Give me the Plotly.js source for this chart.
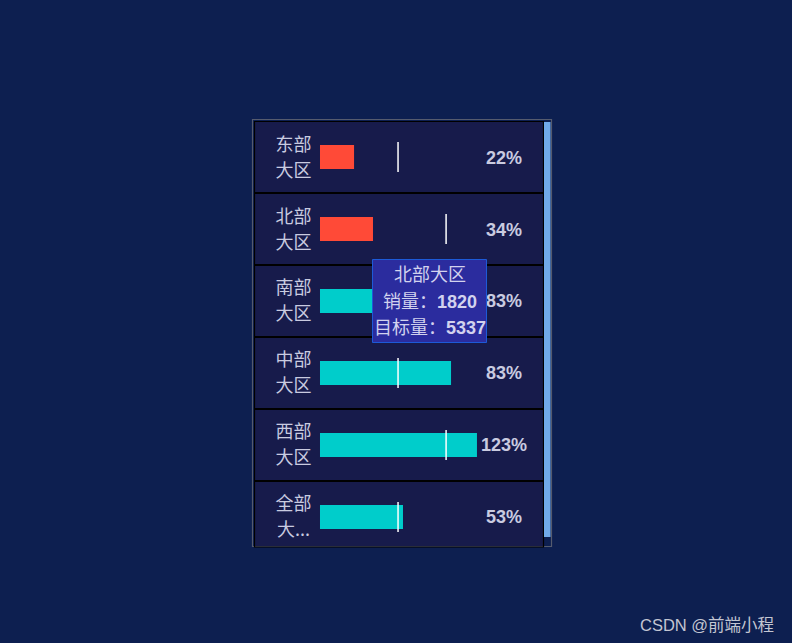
<!DOCTYPE html>
<html>
<head>
<meta charset="utf-8">
<script src="https://cdn.plot.ly/plotly-3.0.1.min.js"></script>
<style>
html,body{margin:0;padding:0;background:#0d1f50;}
#chart{width:792px;height:643px;}
</style>
</head>
<body>
<div id="chart"></div>
<script>
// ---- data ----
const categories = ['东部大区', '北部大区', '南部大区', '中部大区', '西部大区', '全部大区'];
const labelLine1 = ['东部', '北部', '南部', '中部', '西部', '全部'];
const labelLine2 = ['大区', '大区', '大区', '大区', '大区', '大...'];
const sales = [1170, 1820, 4500, 4500, 5390, 2850];
const targets = [5310, 5337, 5420, 5420, 4380, 5380];
const markerValues = [2680, 4330, 4330, 2680, 4330, 2680];
const percents = ['22%', '34%', '83%', '83%', '123%', '53%'];
const barColors = ['#ff4a37', '#ff4a37', '#00cdcb', '#00cdcb', '#00cdcb', '#00cdcb'];

// ---- layout geometry (pixels) ----
const W = 792, H = 643;
const PL = 254, PR = 544, PT = 121, PB = 546;
const xRange = [-2266, 7692];
const yRange = [5.403, -0.5];
const rowPx = (PB - PT) / (yRange[0] - yRange[1]);
const pxToX = p => xRange[0] + (p - PL) / (PR - PL) * (xRange[1] - xRange[0]);
const pxToPaperX = p => (p - PL) / (PR - PL);
const pxToPaperY = p => (PB - p) / (PB - PT);

const idx = categories.map((_, i) => i);
const labelX = idx.map(() => pxToX(293.5));
const pctX = idx.map(() => pxToX(504));
const textShift = 2 / rowPx;
const lineOff = 13 / rowPx;

const txtColor = '#c9cbe0';

const traces = [
  {
    type: 'bar', orientation: 'h',
    x: sales, y: idx, width: 24 / rowPx,
    marker: {color: barColors, line: {width: 0}},
    hoverinfo: 'skip'
  },
  {
    type: 'scatter', mode: 'markers',
    x: markerValues, y: idx,
    marker: {symbol: 'line-ns', size: 21.5, color: '#ffffff', line: {color: '#ffffff', width: 1.5}},
    hoverinfo: 'skip'
  },
  {
    type: 'scatter', mode: 'text',
    x: labelX, y: idx.map(i => i - lineOff + textShift), text: labelLine1,
    textposition: 'middle center',
    textfont: {family: 'Noto Sans CJK SC, sans-serif', size: 18, color: txtColor},
    hoverinfo: 'skip'
  },
  {
    type: 'scatter', mode: 'text',
    x: labelX, y: idx.map(i => i + lineOff + textShift), text: labelLine2,
    textposition: 'middle center',
    textfont: {family: 'Noto Sans CJK SC, sans-serif', size: 18, color: txtColor},
    hoverinfo: 'skip'
  },
  {
    type: 'scatter', mode: 'text',
    x: pctX, y: idx.map(i => i + textShift), text: percents,
    textposition: 'middle center',
    textfont: {family: 'Liberation Sans, Arial, sans-serif', size: 18, color: txtColor, weight: 'bold'},
    hoverinfo: 'skip'
  }
];

const shapes = [];
// panel outer border
shapes.push({type: 'rect', xref: 'paper', yref: 'paper', layer: 'below',
  x0: pxToPaperX(252.5), x1: pxToPaperX(551.5), y0: pxToPaperY(546.5), y1: pxToPaperY(119.5),
  line: {color: '#555b6e', width: 1.2}, fillcolor: 'rgba(0,0,0,0)'});
// row box border
shapes.push({type: 'rect', xref: 'paper', yref: 'paper', layer: 'above',
  x0: pxToPaperX(254.5), x1: pxToPaperX(543.5), y0: pxToPaperY(547), y1: pxToPaperY(121.5),
  line: {color: '#000000', width: 1.2}, fillcolor: 'rgba(0,0,0,0)'});
// row separators
for (let i = 0; i < categories.length - 1; i++) {
  shapes.push({type: 'line', xref: 'paper', yref: 'y', layer: 'above',
    x0: 0, x1: 1, y0: i + 0.5, y1: i + 0.5, line: {color: '#000000', width: 2.2}});
}
// scrollbar
shapes.push({type: 'rect', xref: 'paper', yref: 'paper', layer: 'above',
  x0: pxToPaperX(544), x1: pxToPaperX(550.5), y0: pxToPaperY(537), y1: pxToPaperY(122),
  line: {width: 0}, fillcolor: '#70aaea'});
// tooltip box
shapes.push({type: 'rect', xref: 'paper', yref: 'paper', layer: 'above',
  x0: pxToPaperX(372.5), x1: pxToPaperX(486.5), y0: pxToPaperY(342.5), y1: pxToPaperY(259.5),
  line: {color: '#1d5ad8', width: 1}, fillcolor: '#2b2c9e'});

const tipIdx = 1;
const tipLines = [categories[tipIdx], '销量：<b>' + sales[tipIdx] + '</b>', '目标量：<b>' + targets[tipIdx] + '</b>'];
const tipY = [275, 301.5, 328];
const annotations = tipLines.map((t, j) => ({
  xref: 'paper', yref: 'paper', x: pxToPaperX(429.5), y: pxToPaperY(tipY[j]),
  xanchor: 'center', yanchor: 'middle', showarrow: false, text: t,
  font: {family: 'Liberation Sans, Noto Sans CJK SC, sans-serif', size: 18, color: '#d2d2ee'}
}));
annotations.push({
  xref: 'paper', yref: 'paper', x: pxToPaperX(775.5), y: pxToPaperY(625),
  xanchor: 'right', yanchor: 'middle', showarrow: false, text: 'CSDN @前端小程',
  font: {family: 'Liberation Sans, Noto Sans CJK SC, sans-serif', size: 16.5, color: '#c3c6d2'}
});

const layout = {
  width: W, height: H,
  margin: {l: PL, r: W - PR, t: PT, b: H - PB, pad: 0},
  paper_bgcolor: '#0d1f50',
  plot_bgcolor: '#171b4b',
  showlegend: false,
  hovermode: false,
  xaxis: {range: xRange, visible: false, fixedrange: true},
  yaxis: {range: yRange, visible: false, fixedrange: true},
  shapes: shapes,
  annotations: annotations
};

Plotly.newPlot('chart', traces, layout, {displayModeBar: false, staticPlot: true});
</script>
</body>
</html>
